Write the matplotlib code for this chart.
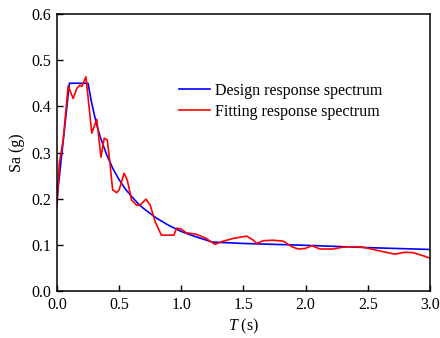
import numpy as np
import matplotlib
matplotlib.use("Agg")
import matplotlib.pyplot as plt

plt.rcParams['font.family'] = ['Liberation Serif', 'DejaVu Serif']
plt.rcParams['mathtext.fontset'] = 'custom'
plt.rcParams['mathtext.it'] = 'Liberation Serif:italic'
plt.rcParams['mathtext.rm'] = 'Liberation Serif'

# design response spectrum
T_design = [0.0, 0.1, 0.25, 0.275, 0.3, 0.325, 0.35, 0.4, 0.45, 0.5, 0.55, 0.6,
            0.65, 0.7, 0.8, 0.9, 1.0, 1.1, 1.25, 1.5, 2.0, 2.5, 3.0]
Sa_design = [0.20, 0.45, 0.45, 0.413, 0.382, 0.355, 0.332, 0.295, 0.265, 0.241,
             0.221, 0.205, 0.190, 0.178, 0.158, 0.142, 0.129, 0.119, 0.106,
             0.103, 0.099, 0.094, 0.090]

# fitting response spectrum
T_fit = [0.0, 0.019, 0.05, 0.09, 0.13, 0.16, 0.185, 0.2, 0.233, 0.28, 0.32,
         0.354, 0.38, 0.405, 0.426, 0.448, 0.48, 0.5, 0.54, 0.566, 0.6, 0.64,
         0.668, 0.716, 0.75, 0.79, 0.84, 0.94, 0.963, 1.0, 1.04, 1.12, 1.2,
         1.27, 1.325, 1.42, 1.526, 1.58, 1.606, 1.66, 1.74, 1.82, 1.89, 1.94,
         1.995, 2.05, 2.116, 2.22, 2.30, 2.38, 2.46, 2.545, 2.625, 2.72, 2.8,
         2.866, 2.95, 3.0]
Sa_fit = [0.183, 0.277, 0.327, 0.444, 0.417, 0.439, 0.446, 0.443, 0.464, 0.342,
          0.372, 0.290, 0.331, 0.327, 0.277, 0.219, 0.213, 0.219, 0.255, 0.240,
          0.197, 0.186, 0.186, 0.199, 0.186, 0.150, 0.121, 0.121, 0.136, 0.134,
          0.126, 0.123, 0.114, 0.101, 0.107, 0.114, 0.119, 0.110, 0.103, 0.109,
          0.110, 0.108, 0.096, 0.091, 0.092, 0.098, 0.091, 0.091, 0.095, 0.096,
          0.095, 0.090, 0.085, 0.080, 0.084, 0.083, 0.076, 0.071]

fig = plt.figure(figsize=(4.4, 3.38), dpi=100)
ax = fig.add_axes([0.1295, 0.139, 0.8475, 0.8196])

ax.plot(T_design, Sa_design, color='#0000ff', lw=1.2, label='Design response spectrum')
ax.plot(T_fit, Sa_fit, color='#ff0000', lw=1.2, label='Fitting response spectrum')

ax.set_xlim(0, 3.0)
ax.set_ylim(0, 0.6)
ax.set_xticks(np.arange(0, 3.01, 0.5))
ax.set_yticks(np.arange(0, 0.61, 0.1))
ax.xaxis.set_major_formatter(plt.FormatStrFormatter('%.1f'))
ax.yaxis.set_major_formatter(plt.FormatStrFormatter('%.1f'))
ax.tick_params(direction='in', length=4, width=1, labelsize=11.5)
ax.tick_params(axis='x', pad=4)
ax.tick_params(axis='y', pad=4)
for s in ax.spines.values():
    s.set_linewidth(1.1)

ax.set_xlabel('$T$ (s)', fontsize=11.5, labelpad=3)
ax.set_ylabel('Sa (g)', fontsize=11.5, labelpad=5)

ax.legend(loc='center left', bbox_to_anchor=(0.29, 0.685), frameon=False,
          fontsize=11.5, handlelength=1.9, handletextpad=0.3, labelspacing=0.3)

fig.savefig('out.png', dpi=100)
